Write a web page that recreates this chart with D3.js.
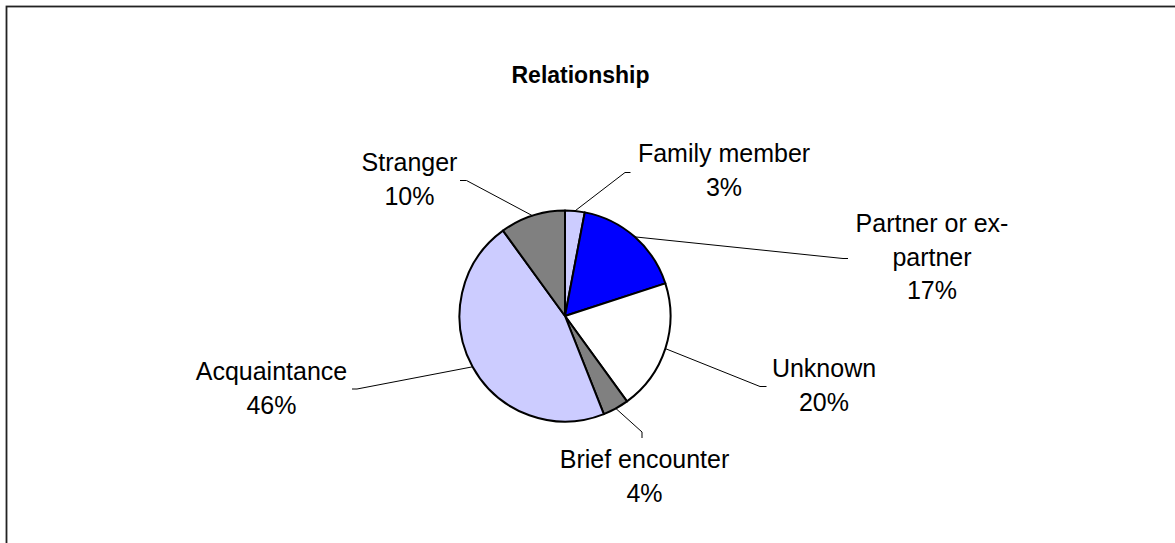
<!DOCTYPE html>
<html>
<head>
<meta charset="utf-8">
<script src="https://cdn.jsdelivr.net/npm/d3@7"></script>
<style>
  html, body { margin: 0; padding: 0; background: #fff; }
  svg { display: block; }
  text { font-family: "Liberation Sans", Arial, sans-serif; fill: #000; }
</style>
</head>
<body>
<svg id="chart" width="1175" height="543"></svg>
<script>
// ---- data ----
const title = "Relationship";
const categories = ["Family member", "Partner or ex-partner", "Unknown", "Brief encounter", "Acquaintance", "Stranger"];
const labelLines = [["Family member"], ["Partner or ex-", "partner"], ["Unknown"], ["Brief encounter"], ["Acquaintance"], ["Stranger"]];
const values = [3, 17, 20, 4, 46, 10];
const colors = ["#CCCCFF", "#0000FF", "#FFFFFF", "#808080", "#CCCCFF", "#808080"];

// ---- layout (label placement) ----
const cx = 565, cy = 316, radius = 105.5;
const labelLayout = [
  { elbow: [625, 172.5], end: [630.5, 172.5], tx: 724, ty: 162 },
  { elbow: [843, 258.5], end: [848, 258.5], tx: 932, ty: 232 },
  { elbow: [760, 386.5], end: [766.5, 386.5], tx: 824, ty: 377 },
  { elbow: [642, 432], end: [642, 438], tx: 644.5, ty: 468 },
  { elbow: [357, 389], end: [352, 389], tx: 271.5, ty: 380 },
  { elbow: [466.5, 180.5], end: [460, 180.5], tx: 409.5, ty: 171 }
];
const lineGap = 33.5;

const svg = d3.select("#chart");

// outer frame
svg.append("rect")
  .attr("x", 6.5).attr("y", 6.5)
  .attr("width", 1300).attr("height", 700)
  .attr("fill", "#fff")
  .attr("stroke", "#222").attr("stroke-width", 1.8);

// title
svg.append("text")
  .attr("x", 580.5).attr("y", 83)
  .attr("text-anchor", "middle")
  .style("font-size", "23px").style("font-weight", "bold")
  .text(title);

const pie = d3.pie().sort(null).value(d => d)(values);
const arc = d3.arc().innerRadius(0).outerRadius(radius);

const g = svg.append("g").attr("transform", `translate(${cx},${cy})`);
g.selectAll("path.slice")
  .data(pie)
  .join("path")
  .attr("class", "slice")
  .attr("d", arc)
  .attr("fill", (d, i) => colors[i])
  .attr("stroke", "#000")
  .attr("stroke-width", 2)
  .attr("stroke-linejoin", "round");

// leader lines
pie.forEach((d, i) => {
  const a = (d.startAngle + d.endAngle) / 2;
  const sx = cx + radius * Math.sin(a);
  const sy = cy - radius * Math.cos(a);
  const L = labelLayout[i];
  svg.append("polyline")
    .attr("points", [[sx, sy], L.elbow, L.end].map(p => p.join(",")).join(" "))
    .attr("fill", "none")
    .attr("stroke", "#000")
    .attr("stroke-width", 1);
});

// labels
const fmt = d3.format(".0%");
const total = d3.sum(values);
pie.forEach((d, i) => {
  const L = labelLayout[i];
  const lines = labelLines[i].concat([fmt(values[i] / total)]);
  const t = svg.append("text")
    .attr("text-anchor", "middle")
    .style("font-size", "25px");
  lines.forEach((s, k) => {
    t.append("tspan")
      .attr("x", L.tx)
      .attr("y", L.ty + k * lineGap)
      .text(s);
  });
});
</script>
</body>
</html>
